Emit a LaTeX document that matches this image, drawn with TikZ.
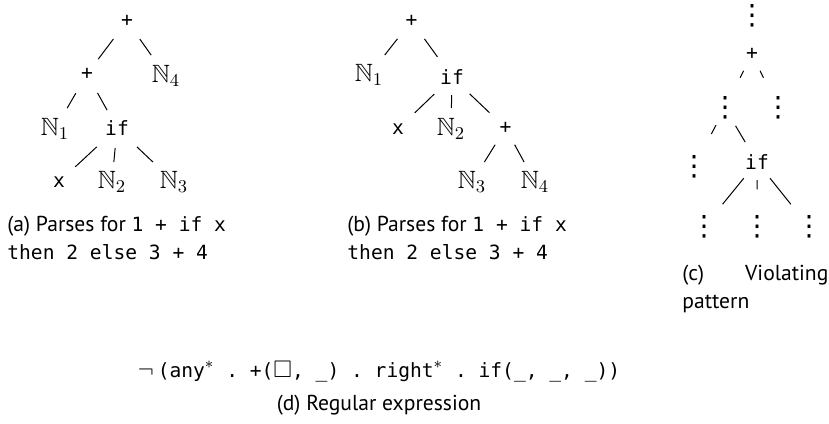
\documentclass[tikz,border=0pt]{standalone}
\usepackage{amssymb}
\usepackage{fontspec}
\setmainfont{PT Sans}
\setmonofont{DejaVu Sans Mono}
\newfontfamily\dvsans{DejaVu Sans}
\usetikzlibrary{calc}
\newcommand\vdts{{\fontsize{14}{14}\dvsans ⋮}}
\newcommand\mt[1]{{\fontsize{9.8}{12}\ttfamily #1}}
\begin{document}
\begin{tikzpicture}[x=0.5pt,y=-0.5pt,
  lbl/.style={inner sep=0pt, font=\fontsize{12.5}{15}\selectfont},
  edge/.style={line width=0.5pt},
  captxt/.style={inner sep=0pt, anchor=base west, font=\fontsize{10.8}{14}\selectfont},
  captc/.style={inner sep=0pt, anchor=base, font=\fontsize{10.8}{14}\selectfont}]
\useasboundingbox (0,0) rectangle (829,423);
% (a)
\node[lbl] (A0) at (127,21) {\mt{+}};
\node[lbl] (A1) at (87,74) {\mt{+}};
\node[lbl] (A2) at (166,76) {$\mathbb{N}_4$};
\node[lbl] (A3) at (55,129) {$\mathbb{N}_1$};
\node[lbl] (A4) at (117,128) {\mt{if}};
\node[lbl] (A5) at (59,182) {\mt{x}};
\node[lbl] (A6) at (112,182) {$\mathbb{N}_2$};
\node[lbl] (A7) at (174,182) {$\mathbb{N}_3$};
\draw[edge] ($(A0)!.34!(A1)$) -- ($(A0)!.72!(A1)$);
\draw[edge] ($(A0)!.33!(A2)$) -- ($(A0)!.62!(A2)$);
\draw[edge] ($(A1)!.35!(A3)$) -- ($(A1)!.62!(A3)$);
\draw[edge] ($(A1)!.35!(A4)$) -- ($(A1)!.67!(A4)$);
\draw[edge] ($(A4)!.35!(A5)$) -- ($(A4)!.72!(A5)$);
\draw[edge] ($(A4)!.37!(A6)$) -- ($(A4)!.63!(A6)$);
\draw[edge] ($(A4)!.35!(A7)$) -- ($(A4)!.63!(A7)$);
\node[captxt] (CA1) at (7,231) {(a) Parses for \mt{1 + if x}};
\node[captxt] (CA2) at (7,259) {\mt{then 2 else 3 + 4}};
% (b)
\node[lbl] (B0) at (411.5,21) {\mt{+}};
\node[lbl] (B1) at (369,75) {$\mathbb{N}_1$};
\node[lbl] (B2) at (452,77) {\mt{if}};
\node[lbl] (B3) at (398,129) {\mt{x}};
\node[lbl] (B4) at (451,129) {$\mathbb{N}_2$};
\node[lbl] (B5) at (505.5,128) {\mt{+}};
\node[lbl] (B6) at (472,182) {$\mathbb{N}_3$};
\node[lbl] (B7) at (535,182) {$\mathbb{N}_4$};
\draw[edge] ($(B0)!.33!(B1)$) -- ($(B0)!.63!(B1)$);
\draw[edge] ($(B0)!.32!(B2)$) -- ($(B0)!.64!(B2)$);
\draw[edge] ($(B2)!.33!(B3)$) -- ($(B2)!.69!(B3)$);
\draw[edge] ($(B2)!.35!(B4)$) -- ($(B2)!.60!(B4)$);
\draw[edge] ($(B2)!.33!(B5)$) -- ($(B2)!.70!(B5)$);
\draw[edge] ($(B5)!.31!(B6)$) -- ($(B5)!.63!(B6)$);
\draw[edge] ($(B5)!.31!(B7)$) -- ($(B5)!.63!(B7)$);
\node[captxt] (CB1) at (347,231) {(b) Parses for \mt{1 + if x}};
\node[captxt] (CB2) at (347,259) {\mt{then 2 else 3 + 4}};
% (c)
\node[lbl] (C0) at (752,16) {\vdts};
\node[lbl] (C1) at (752,54) {\mt{+}};
\node[lbl] (C2) at (725,108) {\vdts};
\node[lbl] (C3) at (778,108) {\vdts};
\node[lbl] (C4) at (694,167) {\vdts};
\node[lbl] (C5) at (757,162) {\mt{if}};
\node[lbl] (C6) at (704,227) {\vdts};
\node[lbl] (C7) at (757,227) {\vdts};
\node[lbl] (C8) at (809,227) {\vdts};
\draw[edge] ($(C1)!.31!(C2)$) -- ($(C1)!.44!(C2)$);
\draw[edge] ($(C1)!.31!(C3)$) -- ($(C1)!.44!(C3)$);
\draw[edge] ($(C2)!.29!(C4)$) -- ($(C2)!.44!(C4)$);
\draw[edge] ($(C2)!.33!(C5)$) -- ($(C2)!.63!(C5)$);
\draw[edge] ($(C5)!.25!(C6)$) -- ($(C5)!.65!(C6)$);
\draw[edge] ($(C5)!.28!(C7)$) -- ($(C5)!.42!(C7)$);
\draw[edge] ($(C5)!.25!(C8)$) -- ($(C5)!.65!(C8)$);
\node[captxt] (CC1) at (682,280) {\makebox[73pt][s]{(c) Violating}};
\node[captxt] (CC2) at (682,308) {pattern};
% (d)
\node[captc, font=\fontsize{12}{14}\selectfont] (D1) at (379,377) {$\neg$\,\mt{(any}$^{*}$\mt{ . +(}$\square$\mt{, \_) . right}$^{*}$\mt{ . if(\_, \_, \_))}};
\node[captc] (D2) at (379,410) {(d) Regular expression};
\end{tikzpicture}
\end{document}
